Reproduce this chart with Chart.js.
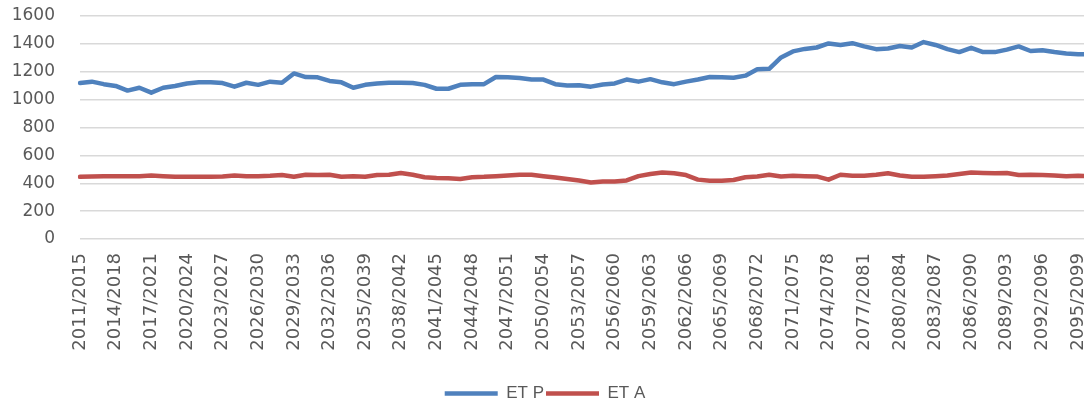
<!DOCTYPE html>
<html>
<head>
<meta charset="utf-8">
<script src="https://cdn.jsdelivr.net/npm/chart.js@4/dist/chart.umd.min.js"></script>
<style>
  html, body { margin: 0; padding: 0; background: #fff; overflow: hidden; }
  #wrap { position: relative; width: 1122px; height: 405px; }
</style>
</head>
<body>
<div id="wrap"><canvas id="etChart"></canvas></div>
<script>
'use strict';

// 5-year moving windows, 2011/2015 .. 2096/2100
var periods = [];
for (var y = 2011; y <= 2096; y++) {
  periods.push(y + '/' + (y + 4));
}

// potential evapotranspiration
var etP = [
  1119, 1129, 1111, 1098, 1065, 1085, 1050, 1085, 1098, 1116,
  1124, 1124, 1119, 1093, 1121, 1106, 1129, 1121, 1188, 1162,
  1160, 1134, 1124, 1085, 1106, 1116, 1121, 1121, 1119, 1106,
  1078, 1078, 1106, 1111, 1111, 1162, 1160, 1155, 1144, 1144,
  1111, 1101, 1103, 1093, 1109, 1116, 1144, 1129, 1147, 1124,
  1111, 1129, 1144, 1162, 1160, 1157, 1172, 1218, 1221, 1303,
  1346, 1364, 1374, 1403, 1392, 1405, 1382, 1362, 1367, 1385,
  1374, 1413, 1392, 1362, 1341, 1372, 1341, 1341, 1359, 1382,
  1349, 1354, 1341, 1331, 1326, 1326
];

// actual evapotranspiration
var etA = [
  446, 448, 451, 451, 451, 451, 456, 451, 446, 446,
  446, 446, 448, 456, 451, 451, 453, 459, 446, 461,
  459, 461, 446, 451, 446, 459, 461, 474, 461, 443,
  438, 436, 431, 443, 446, 451, 456, 461, 461, 451,
  441, 431, 420, 405, 413, 413, 420, 451, 466, 477,
  472, 459, 426, 418, 418, 423, 443, 449, 461, 449,
  454, 451, 449, 426, 461, 454, 454, 461, 472, 456,
  446, 446, 451, 456, 466, 477, 474, 472, 474, 459,
  461, 459, 456, 451, 454, 451
];

var yTicks = [0, 200, 400, 600, 800, 1000, 1200, 1400, 1600];

var ctx = document.getElementById('etChart').getContext('2d');

var chart = new Chart(ctx, {
  type: 'line',
  data: {
    labels: periods,
    datasets: [{
      label: 'ET P',
      data: etP,
      borderColor: '#4f81bd',
      backgroundColor: '#4f81bd',
      borderWidth: 4.5,
      borderCapStyle: 'round',
      borderJoinStyle: 'round',
      pointRadius: 0,
      tension: 0
    }, {
      label: 'ET A',
      data: etA,
      borderColor: '#c0504d',
      backgroundColor: '#c0504d',
      borderWidth: 4.5,
      borderCapStyle: 'round',
      borderJoinStyle: 'round',
      pointRadius: 0,
      tension: 0
    }]
  },
  options: {
    responsive: true,
    maintainAspectRatio: false,
    animation: false,
    layout: {
      padding: { top: 16, right: 32, bottom: -7, left: 0 }
    },
    plugins: {
      tooltip: { enabled: false },
      legend: {
        position: 'bottom',
        labels: {
          usePointStyle: true,
          pointStyle: 'line',
          pointStyleWidth: 53,
          padding: 2,
          color: '#595959',
          font: { family: 'Liberation Sans', size: 17 }
        }
      }
    },
    scales: {
      x: {
        grid: { display: false },
        border: { display: false },
        ticks: {
          autoSkip: false,
          minRotation: 90,
          maxRotation: 90,
          padding: 6,
          color: '#595959',
          font: { family: 'DejaVu Sans', size: 18 },
          callback: function(val, i) {
            return i % 3 === 0 ? periods[i] : '';
          }
        },
        afterFit: function(scale) {
          scale.height = 144;
        }
      },
      y: {
        min: 0,
        max: 1600,
        afterBuildTicks: function(scale) {
          scale.ticks = yTicks.map(function(v) { return { value: v }; });
        },
        grid: { color: '#d9d9d9', lineWidth: 1.5, drawTicks: false },
        border: { display: false },
        ticks: {
          autoSkip: false,
          padding: 25,
          color: '#595959',
          font: { family: 'DejaVu Sans', size: 17 },
          callback: function(val) {
            return String(val);
          }
        },
        afterFit: function(scale) {
          // fixed axis width; tick padding should not push the plot down
          scale.width = 80;
          scale.paddingTop = 0;
          scale.paddingBottom = 0;
        }
      }
    }
  }
});
</script>
</body>
</html>
